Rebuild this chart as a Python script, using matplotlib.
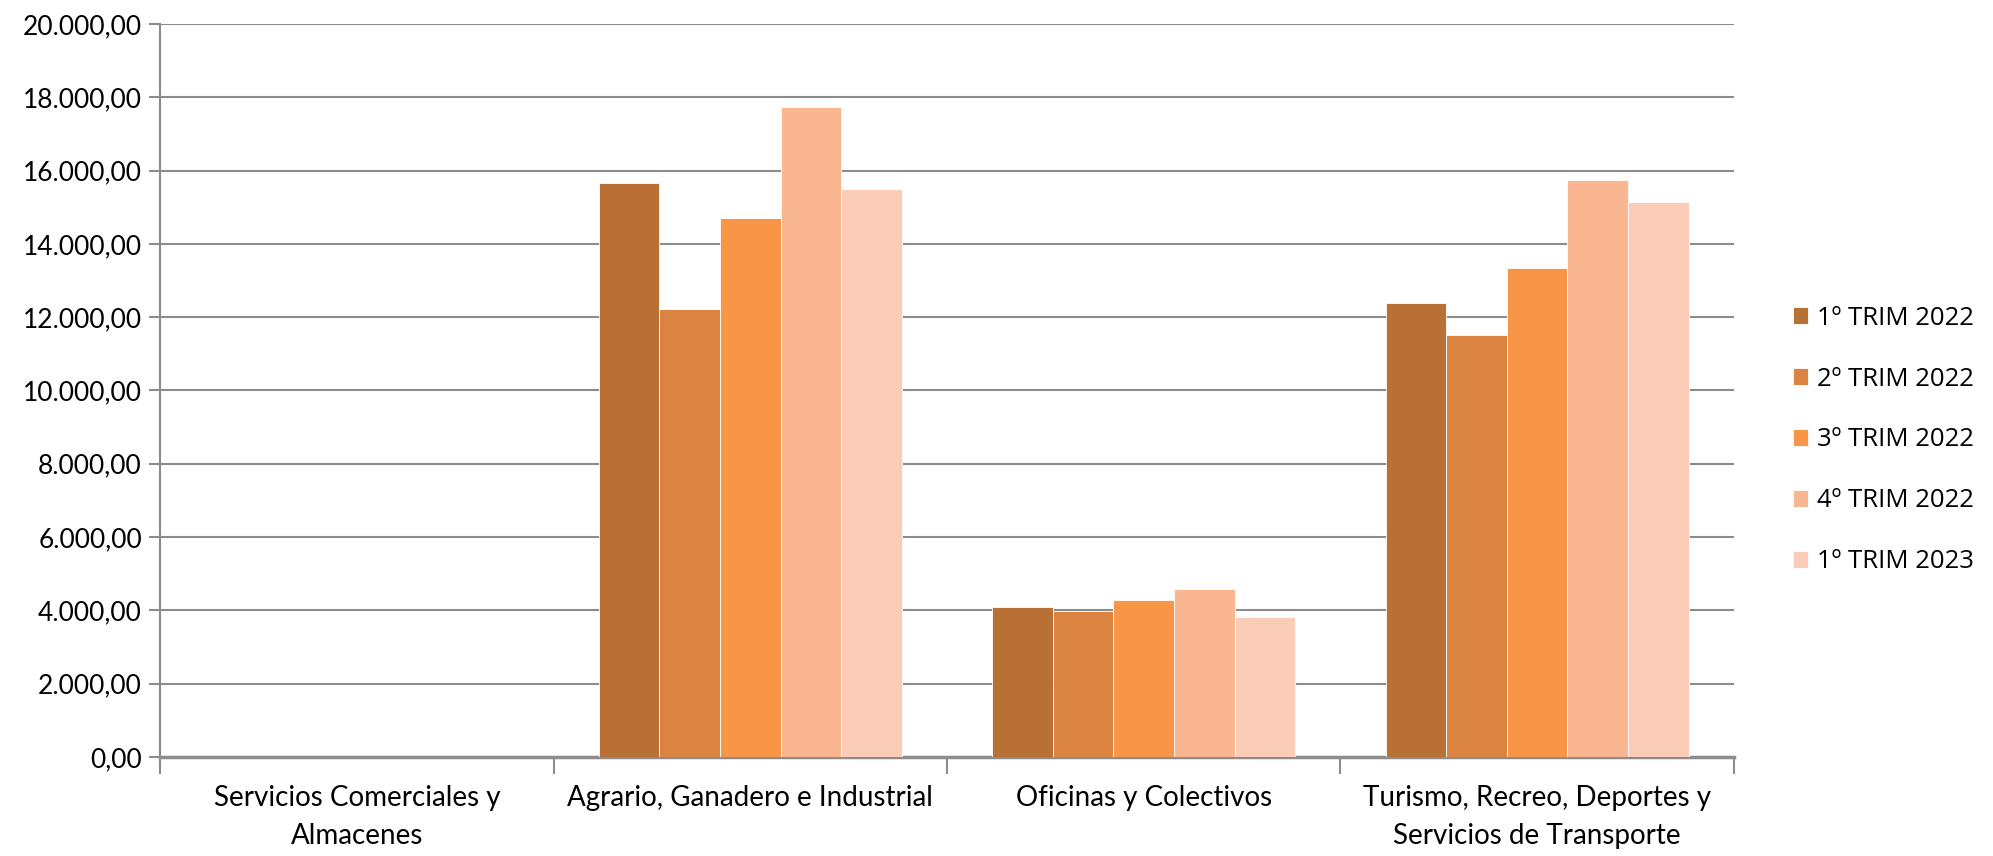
import numpy as np
import matplotlib
matplotlib.use("Agg")
import matplotlib.pyplot as plt
from matplotlib.ticker import FuncFormatter

# data
categories = ["Servicios Comerciales y\nAlmacenes",
              "Agrario, Ganadero e Industrial",
              "Oficinas y Colectivos",
              "Turismo, Recreo, Deportes y\nServicios de Transporte"]
series_names = ["1º TRIM 2022", "2º TRIM 2022", "3º TRIM 2022", "4º TRIM 2022", "1º TRIM 2023"]
trim1_2022 = [0, 15660, 4090, 12380]
trim2_2022 = [0, 12210, 3970, 11520]
trim3_2022 = [0, 14700, 4270, 13350]
trim4_2022 = [0, 17730, 4570, 15750]
trim1_2023 = [0, 15510, 3820, 15140]
y_ticks = list(range(0, 20001, 2000))

colors = ["#B97034", "#DB8340", "#F79646", "#F9B690", "#FBCDB8"]

plt.rcParams['font.family'] = ['Lato', 'DejaVu Sans']

fig = plt.figure(figsize=(19.93, 8.56), dpi=100)
ax = fig.add_axes([0.0803, 0.1157, 0.7897, 0.8563])

series = [trim1_2022, trim2_2022, trim3_2022, trim4_2022, trim1_2023]
n = len(series)
w = 1.0 / (n + 1.5)
x = np.arange(len(categories))
for i, (vals, name) in enumerate(zip(series, series_names)):
    ax.bar(x + (i - (n - 1) / 2) * w, vals, width=w, color=colors[i],
           edgecolor="#FFFFFF", linewidth=0.6, label=name, zorder=3)

ax.set_xlim(-0.5, len(categories) - 0.5)
ax.set_ylim(0, 20000)
ax.set_yticks(y_ticks)
ax.yaxis.set_major_formatter(FuncFormatter(
    lambda v, p: f"{v:,.2f}".replace(",", "X").replace(".", ",").replace("X", ".")))
ax.grid(axis="y", color="#8C8C8C", linewidth=1.5, zorder=0)

# category labels centered, ticks on boundaries
ax.set_xticks(x)
ax.set_xticklabels(categories, fontsize=20, linespacing=1.6)
ax.tick_params(axis="x", length=0, pad=20)
ax.set_xticks(np.arange(-0.5, len(categories), 1.0), minor=True)
ax.tick_params(axis="x", which="minor", length=12, width=1.5, color="#8C8C8C")
ax.tick_params(axis="y", length=8, width=1.5, color="#8C8C8C", labelsize=19, pad=5)

for s in ["top", "right"]:
    ax.spines[s].set_visible(False)
ax.spines["left"].set_color("#8C8C8C")
ax.spines["left"].set_linewidth(1.5)
ax.spines["bottom"].set_color("#8C8C8C")
ax.spines["bottom"].set_linewidth(2.5)

ax.legend(loc="center left", bbox_to_anchor=(0.893, 0.486), bbox_transform=fig.transFigure,
          frameon=False, prop={"family": ["Open Sans", "DejaVu Sans"], "size": 18.5},
          handlelength=0.6, handleheight=0.6,
          handletextpad=0.35, labelspacing=1.4, borderpad=0)

fig.savefig("out.png", dpi=100)
